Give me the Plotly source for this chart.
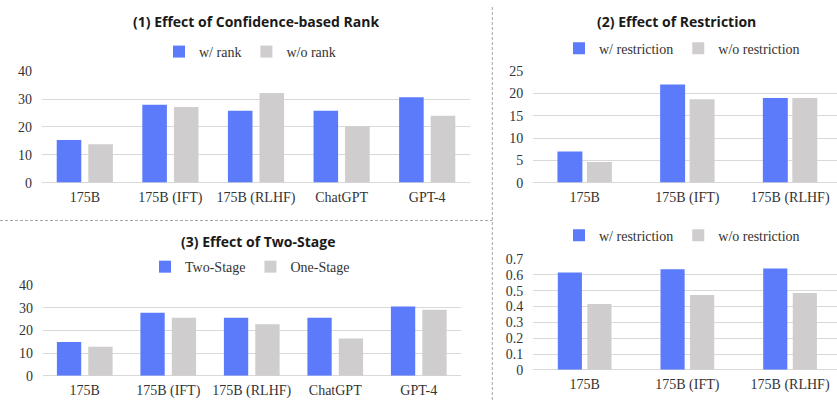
import plotly.graph_objects as go

# ---------------- data ----------------
models5 = ["175B", "175B (IFT)", "175B (RLHF)", "ChatGPT", "GPT-4"]
models3 = ["175B", "175B (IFT)", "175B (RLHF)"]

rank_with = [15.3, 28.0, 25.8, 25.8, 30.7]
rank_without = [13.8, 27.2, 32.2, 20.2, 24.0]

restr_with = [7.0, 22.0, 19.0]
restr_without = [4.6, 18.7, 19.0]

two_stage = [14.9, 27.9, 25.6, 25.6, 30.6]
one_stage = [12.8, 25.6, 22.8, 16.5, 29.2]

restr2_with = [0.615, 0.635, 0.641]
restr2_without = [0.416, 0.473, 0.485]

titles = ["(1) Effect of Confidence-based Rank", "(2) Effect of Restriction", "(3) Effect of Two-Stage"]

# ---------------- styles ----------------
BLUE = "#5b7bfb"
GREY = "#cfcdcd"
GRID = "#d9d9d9"
TXT = "#333333"
SERIF = "Liberation Serif, Times New Roman, serif"
SANS = "Open Sans, Noto Sans, sans-serif"
W, H = 837, 408

fig = go.Figure()

def add_pair(x, a, b, na, nb, xa, ya, leg, w, gap):
    fig.add_trace(go.Bar(x=x, y=a, name=na, marker_color=BLUE, marker_line_width=0,
                         width=w, offset=-w - gap / 2, xaxis=xa, yaxis=ya, legend=leg))
    fig.add_trace(go.Bar(x=x, y=b, name=nb, marker_color=GREY, marker_line_width=0,
                         width=w, offset=gap / 2, xaxis=xa, yaxis=ya, legend=leg))

add_pair(models5, rank_with, rank_without, "w/ rank", "w/o rank", "x", "y", "legend", 0.287, 0.082)
add_pair(models3, restr_with, restr_without, "w/ restriction", "w/o restriction", "x2", "y2", "legend2", 0.243, 0.044)
add_pair(models5, two_stage, one_stage, "Two-Stage", "One-Stage", "x3", "y3", "legend3", 0.291, 0.085)
add_pair(models3, restr2_with, restr2_without, "w/ restriction", "w/o restriction", "x4", "y4", "legend4", 0.235, 0.053)

def px(v):
    return v / W

def py(v):
    return (H - v) / H

xcommon = dict(showgrid=False, zeroline=False, showline=False, ticks="",
               tickfont=dict(family=SERIF, size=14, color=TXT), ticklabelstandoff=4,
               fixedrange=True)
ycommon = dict(showgrid=True, gridcolor=GRID, gridwidth=1, zeroline=True, zerolinecolor=GRID,
               zerolinewidth=1, showline=False, ticks="",
               tickfont=dict(family=SERIF, size=14, color=TXT), ticklabelstandoff=9,
               fixedrange=True)

legcommon = dict(orientation="h", xanchor="center", yanchor="middle", bgcolor="rgba(0,0,0,0)",
                 font=dict(family=SERIF, size=14, color=TXT), itemwidth=30, traceorder="normal",
                 itemclick=False, itemdoubleclick=False)

fig.update_layout(
    width=W, height=H,
    margin=dict(l=0, r=0, t=0, b=0),
    paper_bgcolor="white", plot_bgcolor="white",
    barmode="overlay",
    xaxis=dict(xcommon, domain=[px(42), px(470)], anchor="y", range=[-0.5, 4.5]),
    yaxis=dict(ycommon, domain=[py(182.3), py(66.7)], anchor="x", range=[0, 40], dtick=10),
    xaxis2=dict(xcommon, domain=[px(533.3), 1.0], anchor="y2", range=[-0.5, 2.457]),
    yaxis2=dict(ycommon, domain=[py(182.3), py(66.7)], anchor="x2", range=[0, 25], dtick=5),
    xaxis3=dict(xcommon, domain=[px(43), px(460.5)], anchor="y3", range=[-0.5, 4.5]),
    yaxis3=dict(ycommon, domain=[py(382.7), py(289)], anchor="x3", range=[0, 40], dtick=10),
    xaxis4=dict(xcommon, domain=[px(533.3), 1.0], anchor="y4", range=[-0.5, 2.457]),
    yaxis4=dict(ycommon, domain=[py(376.7), py(261.7)], anchor="x4", range=[0, 0.7], dtick=0.1),
    legend=dict(legcommon, x=px(250), y=py(46.7)),
    legend2=dict(legcommon, x=px(682), y=py(43.3)),
    legend3=dict(legcommon, x=px(250), y=py(270)),
    legend4=dict(legcommon, x=px(682), y=py(237.3)),
    showlegend=True,
)

title_pos = [(256, 15.5), (676, 15.5), (258, 243.3)]
for t, (tx, ty) in zip(titles, title_pos):
    fig.add_annotation(text="<b>" + t + "</b>", xref="paper", yref="paper",
                       x=px(tx), y=py(ty), xanchor="center", yanchor="middle",
                       showarrow=False, font=dict(family=SANS, size=14, color="#1a1a1a"))

# dashed separators
fig.add_shape(type="line", xref="paper", yref="paper", x0=px(492.3), x1=px(492.3), y0=0, y1=1,
              line=dict(color="#a6a6a6", width=1, dash="3px,2px"))
fig.add_shape(type="line", xref="paper", yref="paper", x0=0, x1=px(492.3), y0=py(221.7), y1=py(221.7),
              line=dict(color="#a6a6a6", width=1, dash="3px,2px"))

fig.write_html("out.html", config={"displayModeBar": False},
               post_script="document.body.style.margin='0';document.body.style.overflow='hidden';")
